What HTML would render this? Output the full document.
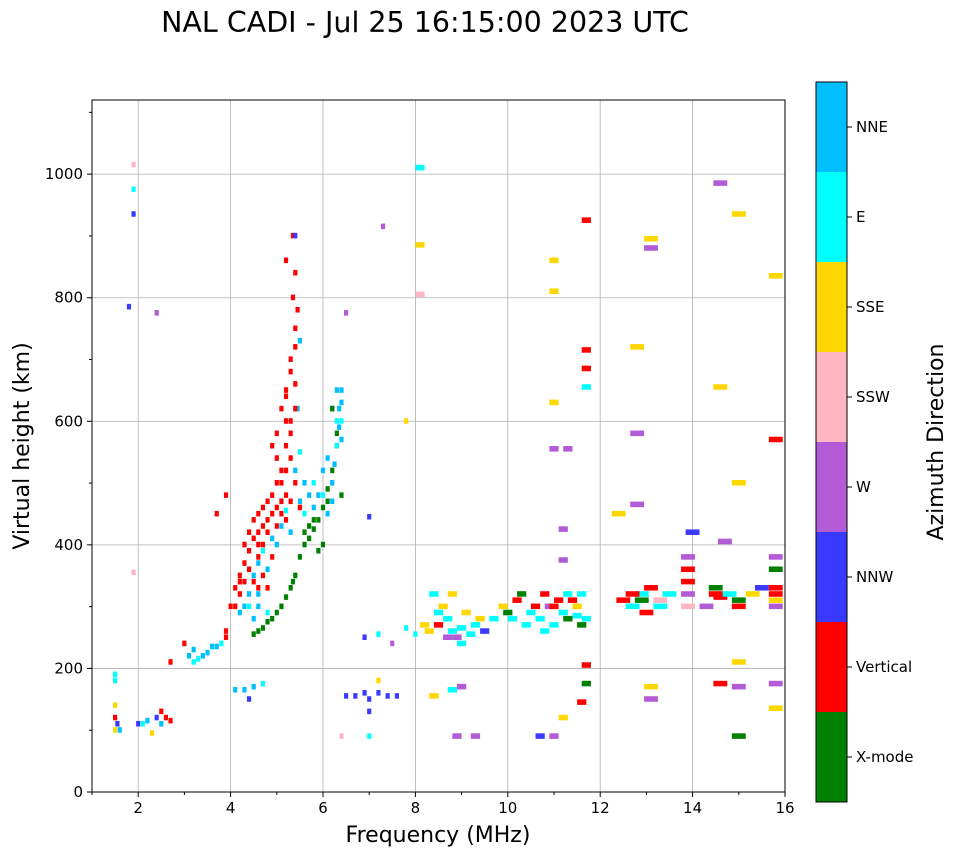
<!DOCTYPE html>
<html><head><meta charset="utf-8"><style>
body{margin:0;background:#fff;font-family:"Liberation Sans","DejaVu Sans",sans-serif}
svg text{font-family:"DejaVu Sans","Liberation Sans",sans-serif}
</style></head><body>
<svg id="chart" width="958" height="857" viewBox="0 0 958 857" xmlns="http://www.w3.org/2000/svg"></svg>
<script>
const dirLabels=["X-mode","Vertical","NNW","W","SSW","SSE","E","NNE"];
const dirColors=["#008000","#ff0000","#3a3aff","#b35bd6","#ffb6c1","#ffd700","#00ffff","#00bfff"];
const xTicks=[2,4,6,8,10,12,14,16];
const yTicks=[0,200,400,600,800,1000];
// points: frequency (MHz), virtual height (km), direction index
const freqs=[3.9,4.0,4.1,4.2,4.3,4.4,4.5,4.6,4.7,4.8,4.9,5.0,5.1,5.2,4.6,4.7,4.8,5.0,5.1,5.2,5.3,5.2,5.3,5.4,5.35,5.4,5.35,5.2,4.9,5.0,5.1,5.2,5.4,5.3,5.4,5.5,4.4,4.5,4.7,4.8,3.7,3.9,4.2,
4.3,4.4,4.5,4.6,4.7,4.9,5.1,5.2,5.5,5.4,5.5,5.45,5.5,5.4,4.6,4.8,4.5,
4.5,4.7,4.9,5.1,5.3,5.4,5.5,5.6,5.7,5.8,5.9,6.0,6.1,6.2,6.3,6.4,6.2,5.9,6.0,
6.2,6.2,6.25,6.3,6.35,6.35,6.4,6.4,6.4,6.1,6.0,5.9,5.7,5.8,
3.1,3.2,3.3,3.5,3.7,3.8,3.0,3.0,2.7,3.9,1.5,1.5,1.55,1.6,2.0,2.2,2.4,2.5,2.6,2.3,
4.1,4.3,4.5,4.7,4.4,
6.5,6.7,6.9,7.0,7.2,7.4,7.6,7.0,7.2,6.9,7.2,7.5,7.8,
8.0,8.3,8.5,8.6,8.7,8.8,8.9,9.0,9.1,9.3,9.5,9.7,9.9,10.0,10.2,10.4,10.6,10.7,10.8,10.9,11.0,11.1,11.2,11.3,11.4,11.5,11.6,11.7,8.4,8.8,9.0,8.8,8.4,9.0,
12.5,12.7,12.9,13.0,13.1,13.3,13.5,13.9,13.9,13.9,14.0,14.3,14.5,14.6,14.8,15.0,15.3,15.5,15.8,15.8,15.8,15.8,15.8,15.8,15.0,15.0,15.0,15.0,15.0,14.6,14.6,14.6,14.7,13.1,13.1,12.8,12.8,12.8,12.4,13.1,13.1,15.8,15.8,
11.7,11.7,11.7,11.7,11.0,11.0,11.0,11.0,11.3,11.2,11.2,8.1,8.1,8.1,7.3,7.8,6.5,7.0,6.2,1.9,1.9,1.9,2.4,1.8,10.7,11.0,11.2,11.7,11.7,11.6,8.9,9.3,7.0,6.4,
4.3,4.4,4.5,4.6,4.7,4.8,4.9,5.0,5.1,5.2,5.3,5.1,5.2,5.3,5.4,5.3,5.4,5.45,4.1,4.2,4.3,4.6,5.0,5.2,4.9,4.6,
4.2,4.4,4.6,4.8,5.0,5.3,5.6,5.6,5.7,5.8,6.0,6.1,6.3,6.4,6.3,3.4,3.6,3.2,
4.6,4.8,5.0,5.2,5.35,5.6,5.8,6.1,6.3,
8.2,8.5,8.7,9.2,9.4,10.1,10.3,10.5,10.8,11.0,11.3,11.5,11.6,12.7,12.9,13.3,13.9,13.9,14.5,15.0,15.8,15.8,
1.5,1.5,1.5,2.1,2.5,2.7,1.9];
const heights=[260,300,330,350,370,390,410,420,430,440,450,460,470,480,380,400,420,500,520,560,600,650,700,750,800,840,900,860,560,580,620,640,660,540,500,460,360,340,350,330,450,480,340,
300,320,350,370,390,410,430,455,470,520,550,620,730,900,300,290,280,
255,265,280,300,330,350,380,400,410,425,440,460,490,520,560,480,620,390,400,
470,500,530,560,590,620,650,600,570,450,480,480,430,460,
220,230,215,225,235,240,240,240,210,250,190,140,110,100,110,115,120,130,120,95,
165,165,170,175,150,
155,155,160,150,160,155,155,130,180,250,255,240,265,
255,260,270,300,280,260,250,265,290,270,260,280,300,290,310,270,300,280,320,300,270,310,290,280,310,300,320,280,320,320,240,165,155,170,
310,300,320,290,330,310,320,340,380,300,420,300,330,315,320,300,320,330,320,300,360,380,570,835,935,500,170,210,90,175,985,655,405,880,895,720,580,465,450,170,150,135,175,
925,715,685,655,860,810,630,555,555,425,375,1010,885,805,915,600,775,445,620,975,935,355,775,785,90,90,120,175,205,145,90,90,90,90,
400,420,440,450,460,470,480,430,450,440,470,500,520,580,620,680,720,780,300,320,340,330,540,600,380,400,
290,300,320,360,400,420,450,500,480,500,520,540,600,630,650,220,235,210,
260,275,290,315,340,420,440,470,580,
270,290,250,255,280,280,320,290,260,300,320,285,270,320,310,300,360,320,320,310,330,310,
100,120,180,110,110,115,1015];
const dirs=[1,1,1,1,1,1,1,1,1,1,1,1,1,1,1,1,1,1,1,1,1,1,1,1,1,1,1,1,1,1,1,1,1,1,1,1,1,1,1,1,1,1,1,
7,7,7,7,6,7,7,6,7,7,6,7,7,2,7,6,7,
0,0,0,0,0,0,0,0,0,0,0,0,0,0,0,0,0,0,0,
7,7,7,6,7,7,7,6,7,7,6,7,0,7,
7,7,6,7,7,6,7,1,1,1,6,5,2,7,2,7,2,1,1,5,
7,7,7,6,2,
2,2,2,2,2,2,2,2,5,2,6,3,6,
6,5,1,5,6,6,3,6,5,6,2,6,5,0,1,6,1,6,1,3,6,1,6,0,1,5,6,6,6,5,6,6,5,3,
1,6,6,1,1,4,6,1,3,4,2,3,0,1,6,1,5,2,1,3,0,3,1,5,5,5,3,5,0,1,3,5,3,3,5,5,3,3,5,5,3,5,3,
1,1,1,6,5,5,5,3,3,3,3,6,5,4,3,5,3,2,0,6,2,4,3,2,2,3,5,0,1,1,3,3,6,4,
1,1,1,1,1,1,1,1,1,1,1,1,1,1,1,1,1,1,1,1,1,1,1,1,1,1,
7,6,7,7,7,7,6,7,7,6,7,7,6,7,7,7,7,6,
0,0,0,0,0,0,0,0,0,
5,6,3,6,5,6,0,6,6,1,6,6,0,1,0,6,1,3,1,0,1,5,
5,1,6,6,7,1,4];
const svg=document.getElementById('chart');
const NS="http://www.w3.org/2000/svg";
function mk(tag,attrs,parent){const e=document.createElementNS(NS,tag);for(const k in attrs)e.setAttribute(k,attrs[k]);(parent||svg).appendChild(e);return e;}
const X0=92,X1=785,Y0=792,Y1=100,FMIN=1,FMAX=16,HMAX=1120;
const xs=f=>X0+(f-FMIN)/(FMAX-FMIN)*(X1-X0);
const ys=h=>Y0-h/HMAX*(Y0-Y1);
let t=mk('text',{x:425,y:32,'font-size':28.5,'text-anchor':'middle',fill:'#000'});t.textContent="NAL CADI - Jul 25 16:15:00 2023 UTC";


const grid=mk('g',{});


xTicks.forEach(v=>mk('line',{x1:xs(v),x2:xs(v),y1:Y1,y2:Y0,stroke:'#b0b0b0','stroke-width':0.8},grid));
yTicks.forEach(v=>mk('line',{x1:X0,x2:X1,y1:ys(v),y2:ys(v),stroke:'#b0b0b0','stroke-width':0.8},grid));
const pts=mk('g',{});


for(let i=0;i<freqs.length;i++){
  const w=freqs[i]>12?0.3:(freqs[i]>8?0.2:0.09);
  const r=mk('rect',{x:xs(freqs[i]-w/2),y:ys(heights[i]+5),width:(X1-X0)*w/15,height:Math.max(4,9/HMAX*(Y0-Y1)),fill:dirColors[dirs[i]]},pts);
  
  
}
const frame=mk('rect',{x:X0,y:Y1,width:X1-X0,height:Y0-Y1,fill:'none',stroke:'#000','stroke-width':1});


const xa=mk('g',{});


for(let f=1;f<=16;f++){mk('line',{x1:xs(f),x2:xs(f),y1:Y0,y2:Y0+(f%2==0?5:3),stroke:'#000'},xa);}
xTicks.forEach(v=>{const e=mk('text',{x:xs(v),y:Y0+21,'font-size':15,'text-anchor':'middle'},xa);e.textContent=v;});
let xl=mk('text',{x:438,y:842,'font-size':22,'text-anchor':'middle'});xl.textContent="Frequency (MHz)";


const ya=mk('g',{});


for(let h=0;h<=1100;h+=100){mk('line',{x1:X0,x2:X0-(h%200==0?5:3),y1:ys(h),y2:ys(h),stroke:'#000'},ya);}
yTicks.forEach(v=>{const e=mk('text',{x:X0-9,y:ys(v)+5,'font-size':15,'text-anchor':'end'},ya);e.textContent=v;});
let yl=mk('text',{x:29,y:446,'font-size':22,'text-anchor':'middle',transform:'rotate(-90 29 446)'});yl.textContent="Virtual height (km)";


const cb=mk('g',{});


const CT=82,CB=802,seg=(CB-CT)/8;
dirLabels.forEach((lab,i)=>{
  const y=CB-(i+1)*seg;
  mk('rect',{x:816,y:y,width:31,height:seg,fill:dirColors[i]},cb);
  mk('line',{x1:847,x2:852,y1:y+seg/2,y2:y+seg/2,stroke:'#000'},cb);
  const e=mk('text',{x:856,y:y+seg/2+5,'font-size':15},cb);e.textContent=lab;
});
mk('rect',{x:816,y:CT,width:31,height:CB-CT,fill:'none',stroke:'#000'},cb);
let cl=mk('text',{x:943,y:442,'font-size':22,'text-anchor':'middle',transform:'rotate(-90 943 442)'});cl.textContent="Azimuth Direction";


</script>
</body></html>
